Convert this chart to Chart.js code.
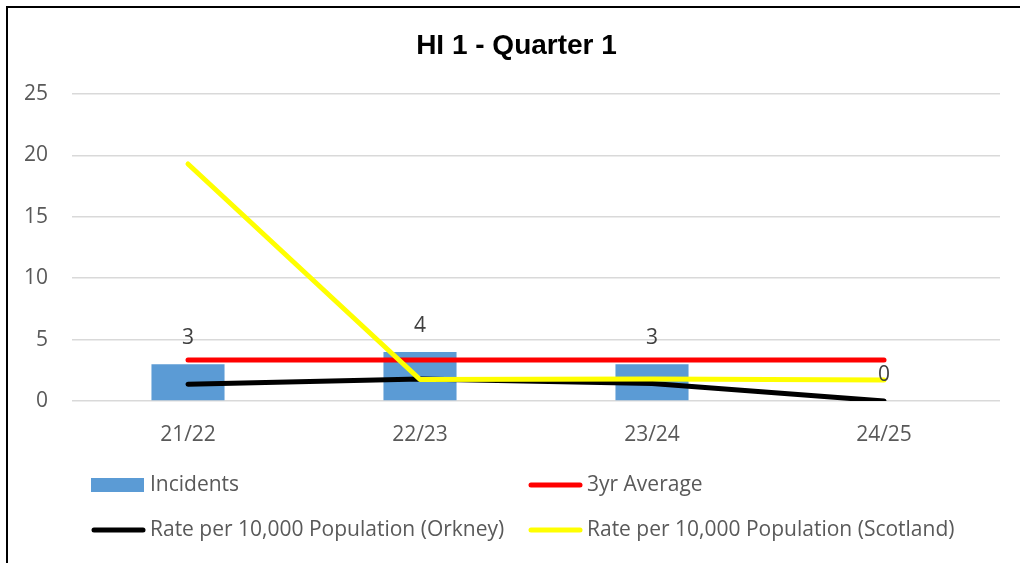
<!DOCTYPE html>
<html>
<head>
<meta charset="utf-8">
<script src="https://cdn.jsdelivr.net/npm/chart.js@4/dist/chart.umd.min.js"></script>
<style>
  html, body { margin: 0; padding: 0; background: #fff; }
  #wrap { width: 1020px; height: 563px; }
</style>
</head>
<body>
<div id="wrap"><canvas id="hiChart" width="1020" height="563"></canvas></div>
<script>
'use strict';

// Data
var years = ['21/22', '22/23', '23/24', '24/25'];
var incidents = [3, 4, 3, 0];
var threeYrAverage = [3.33, 3.33, 3.33, 3.33];
var rateOrkney = [1.37, 1.8, 1.42, 0];
var rateScotland = [19.3, 1.75, 1.8, 1.7];
var yTicks = [0, 5, 10, 15, 20, 25];
var chartTitle = 'HI 1 - Quarter 1';

var textFont = "'Open Sans', 'Noto Sans', sans-serif";
var textSize = 21;

// white page, black frame lines (left and top) and the title
var framePlugin = {
  id: 'frame',
  beforeDraw: function(chart) {
    var ctx = chart.ctx;
    ctx.save();
    ctx.fillStyle = '#fff';
    ctx.fillRect(0, 0, chart.width, chart.height);
    ctx.strokeStyle = '#000';
    ctx.lineWidth = 2;
    ctx.beginPath();
    ctx.moveTo(7, chart.height);
    ctx.lineTo(7, 7);
    ctx.lineTo(chart.width, 7);
    ctx.stroke();

    // title sits a little right of the page centre in the original
    ctx.font = "bold 28px 'Liberation Sans', Arial, sans-serif";
    ctx.fillStyle = '#000';
    ctx.textAlign = 'center';
    ctx.textBaseline = 'middle';
    ctx.fillText(chartTitle, 516.5, 46);
    ctx.restore();
  }
};

// value labels above the bars
var barLabelPlugin = {
  id: 'barLabels',
  afterDatasetsDraw: function(chart) {
    var ctx = chart.ctx;
    var meta = chart.getDatasetMeta(0);
    ctx.save();
    ctx.font = textSize + 'px ' + textFont;
    ctx.fillStyle = '#404040';
    ctx.textAlign = 'center';
    ctx.textBaseline = 'middle';
    meta.data.forEach(function(bar, i) {
      ctx.fillText(String(chart.data.datasets[0].data[i]), bar.x, bar.y - 26);
    });
    ctx.restore();
  }
};

// legend in two columns under the axis, like the original
var gridLegendPlugin = {
  id: 'gridLegend',
  afterDraw: function(chart) {
    var ctx = chart.ctx;
    var cols = [91, 528];
    var rows = [485, 530];
    ctx.save();
    ctx.font = textSize + 'px ' + textFont;
    ctx.textBaseline = 'middle';
    ctx.textAlign = 'left';
    chart.data.datasets.forEach(function(ds, i) {
      var x = cols[i % 2];
      var y = rows[Math.floor(i / 2)];
      if (ds.type === 'bar') {
        ctx.fillStyle = ds.backgroundColor;
        ctx.fillRect(x, y - 7, 53, 14);
      } else {
        ctx.strokeStyle = ds.borderColor;
        ctx.lineWidth = 5;
        ctx.lineCap = 'round';
        ctx.beginPath();
        ctx.moveTo(x + 3, y);
        ctx.lineTo(x + 52, y);
        ctx.stroke();
      }
      ctx.fillStyle = '#595959';
      ctx.fillText(ds.label, x + 59, y);
    });
    ctx.restore();
  }
};

function lineSet(label, data, color, order) {
  return {
    type: 'line',
    label: label,
    data: data,
    borderColor: color,
    backgroundColor: color,
    borderWidth: 5,
    borderCapStyle: 'round',
    borderJoinStyle: 'round',
    pointRadius: 0,
    tension: 0,
    fill: false,
    order: order
  };
}

var ctx = document.getElementById('hiChart');
var hiChart = new Chart(ctx, {
  type: 'bar',
  data: {
    labels: years,
    datasets: [
      {
        type: 'bar',
        label: 'Incidents',
        data: incidents,
        backgroundColor: '#5B9BD5',
        barPercentage: 0.315,
        categoryPercentage: 1,
        order: 4
      },
      lineSet('3yr Average', threeYrAverage, '#FF0000', 3),
      lineSet('Rate per 10,000 Population (Orkney)', rateOrkney, '#000000', 2),
      lineSet('Rate per 10,000 Population (Scotland)', rateScotland, '#FFFF00', 1)
    ]
  },
  options: {
    responsive: false,
    animation: false,
    layout: { padding: { left: 0, right: 20, top: 94, bottom: 112 } },
    plugins: {
      legend: { display: false },
      tooltip: { enabled: false },
      title: { display: false }
    },
    scales: {
      x: {
        grid: { display: false, drawTicks: false },
        border: { display: false },
        ticks: { color: '#595959', font: { family: textFont, size: textSize }, padding: 21 },
        afterFit: function(scale) { scale.height = 50; }
      },
      y: {
        min: 0,
        max: 25,
        afterBuildTicks: function(scale) {
          scale.ticks = yTicks.map(function(v) { return { value: v }; });
        },
        grid: { color: '#D9D9D9', lineWidth: 1.5, drawTicks: false },
        border: { display: false },
        ticks: { color: '#595959', font: { family: textFont, size: textSize }, padding: 24 },
        afterFit: function(scale) { scale.width = 72; }
      }
    }
  },
  plugins: [framePlugin, barLabelPlugin, gridLegendPlugin]
});
</script>
</body>
</html>
